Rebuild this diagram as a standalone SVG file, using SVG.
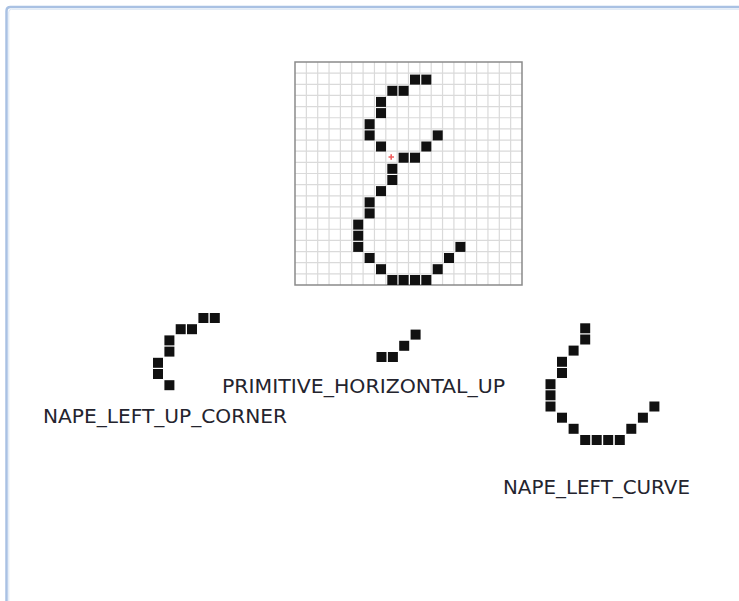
<svg xmlns="http://www.w3.org/2000/svg" xmlns:xlink="http://www.w3.org/1999/xlink" width="739" height="601" viewBox="0 0 739 601">
<style>
.px{fill:#111;}
.gl{stroke:#dadada;stroke-width:1.2;fill:none;}
.gb{stroke:#8a8a8a;stroke-width:1.5;fill:none;}
.lbl{font-family:"DejaVu Sans","Liberation Sans",sans-serif;font-size:19px;fill:#24242e;}
</style>
<defs>
<rect id="sq" width="10" height="10"/>
</defs>
<rect x="0" y="0" width="739" height="601" fill="#ffffff"/>
<g id="frame">
<path d="M6.5,601 V11 Q6.5,7 10.5,7 H739" fill="none" stroke="#a9c1e3" stroke-width="2.5"/>
<path d="M8.8,601 V12 Q8.8,9.3 11.5,9.3 H739" fill="none" stroke="#dbe6f4" stroke-width="1"/>
</g>
<g id="glyph-grid">
<rect x="295" y="62" width="227" height="223" fill="#ffffff"/>
<path class="gl" d="M306.35,62V285M317.7,62V285M329.05,62V285M340.4,62V285M351.75,62V285M363.1,62V285M374.45,62V285M385.8,62V285M397.15,62V285M408.5,62V285M419.85,62V285M431.2,62V285M442.55,62V285M453.9,62V285M465.25,62V285M476.6,62V285M487.95,62V285M499.3,62V285M510.65,62V285M295,73.15H522M295,84.3H522M295,95.45H522M295,106.6H522M295,117.75H522M295,128.9H522M295,140.05H522M295,151.2H522M295,162.35H522M295,173.5H522M295,184.65H522M295,195.8H522M295,206.95H522M295,218.1H522M295,229.25H522M295,240.4H522M295,251.55H522M295,262.7H522M295,273.85H522"/>
<rect class="gb" x="295" y="62" width="227" height="223"/>
<g class="px">
<use href="#sq" x="410" y="74.6"/><use href="#sq" x="421.3" y="74.6"/>
<use href="#sq" x="387.3" y="85.8"/><use href="#sq" x="398.6" y="85.8"/>
<use href="#sq" x="376" y="96.9"/>
<use href="#sq" x="376" y="108.1"/>
<use href="#sq" x="364.6" y="119.2"/>
<use href="#sq" x="364.6" y="130.4"/><use href="#sq" x="432.7" y="130.4"/>
<use href="#sq" x="376" y="141.5"/><use href="#sq" x="421.3" y="141.5"/>
<use href="#sq" x="398.6" y="152.7"/><use href="#sq" x="410" y="152.7"/>
<use href="#sq" x="387.3" y="163.8"/>
<use href="#sq" x="387.3" y="175"/>
<use href="#sq" x="376" y="186.1"/>
<use href="#sq" x="364.6" y="197.3"/>
<use href="#sq" x="364.6" y="208.4"/>
<use href="#sq" x="353.2" y="219.6"/>
<use href="#sq" x="353.2" y="230.7"/>
<use href="#sq" x="353.2" y="241.9"/><use href="#sq" x="455.4" y="241.9"/>
<use href="#sq" x="364.6" y="253"/><use href="#sq" x="444" y="253"/>
<use href="#sq" x="376" y="264.2"/><use href="#sq" x="432.7" y="264.2"/>
<use href="#sq" x="387.3" y="275"/><use href="#sq" x="398.6" y="275"/><use href="#sq" x="410" y="275"/><use href="#sq" x="421.3" y="275"/>
</g>
<path d="M388.5,157H394M391.2,154.3V159.7" stroke="#f06060" stroke-width="1.6" fill="none"/>
</g>
<g id="connectors"></g>
<g id="nape-left-up-corner">
<g class="px">
<use href="#sq" x="198.4" y="313"/><use href="#sq" x="209.8" y="313"/>
<use href="#sq" x="175.7" y="324.2"/><use href="#sq" x="187" y="324.2"/>
<use href="#sq" x="164.4" y="335.4"/>
<use href="#sq" x="164.4" y="346.6"/>
<use href="#sq" x="153" y="357.8"/>
<use href="#sq" x="153" y="369"/>
<use href="#sq" x="164.4" y="380.2"/>
</g>
<text class="lbl" x="43" y="423" textLength="244" lengthAdjust="spacingAndGlyphs">NAPE_LEFT_UP_CORNER</text>
</g>
<g id="primitive-horizontal-up">
<g class="px">
<use href="#sq" x="376.5" y="352"/><use href="#sq" x="387.9" y="352"/>
<use href="#sq" x="399.2" y="340.8"/>
<use href="#sq" x="410.6" y="329.6"/>
</g>
<text class="lbl" x="222" y="393" textLength="283" lengthAdjust="spacingAndGlyphs">PRIMITIVE_HORIZONTAL_UP</text>
</g>
<g id="nape-left-curve">
<g class="px">
<use href="#sq" x="580.2" y="323.3"/>
<use href="#sq" x="580.2" y="334.5"/>
<use href="#sq" x="568.6" y="345.6"/>
<use href="#sq" x="557" y="356.8"/>
<use href="#sq" x="557" y="368"/>
<use href="#sq" x="545.5" y="379.2"/>
<use href="#sq" x="545.5" y="390.3"/>
<use href="#sq" x="545.5" y="401.5"/><use href="#sq" x="649.4" y="401.5"/>
<use href="#sq" x="557" y="412.7"/><use href="#sq" x="637.9" y="412.7"/>
<use href="#sq" x="568.6" y="423.8"/><use href="#sq" x="626.3" y="423.8"/>
<use href="#sq" x="580.2" y="435"/><use href="#sq" x="591.7" y="435"/><use href="#sq" x="603.2" y="435"/><use href="#sq" x="614.8" y="435"/>
</g>
<text class="lbl" x="503" y="494" textLength="187" lengthAdjust="spacingAndGlyphs">NAPE_LEFT_CURVE</text>
</g>
</svg>
